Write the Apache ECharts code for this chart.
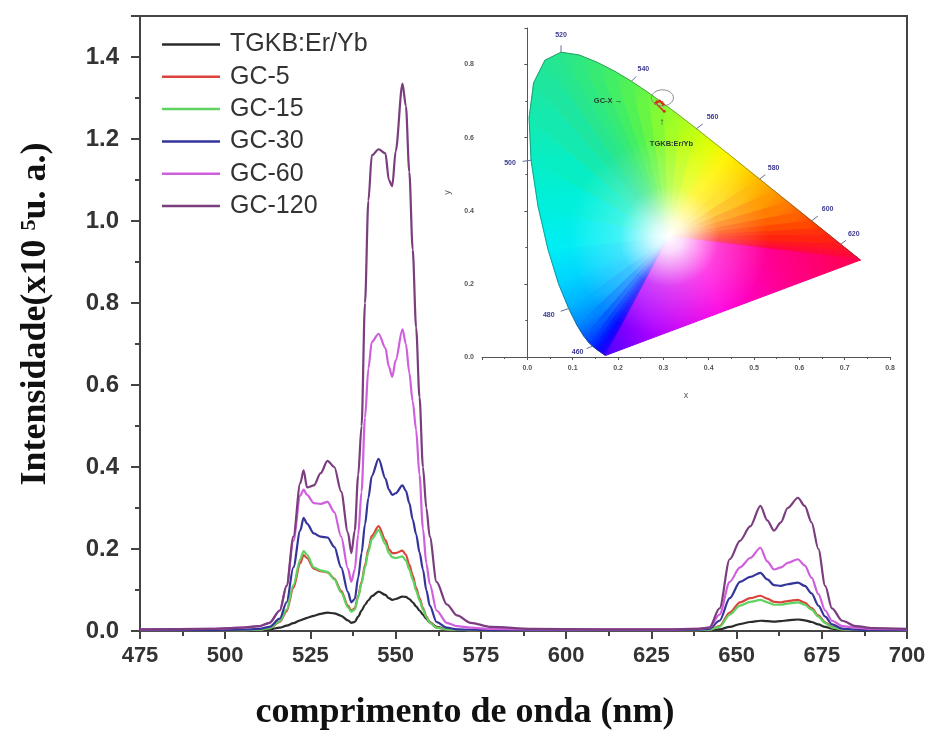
<!DOCTYPE html>
<html>
<head>
<meta charset="utf-8">
<title>Espectro de emissão</title>
<script src="https://cdn.jsdelivr.net/npm/echarts@6.0.0/dist/echarts.min.js"></script>
<style>
  html, body { margin: 0; padding: 0; background: #fff; }
  #chart { width: 930px; height: 738px; }
</style>
</head>
<body>
<div id="chart"></div>
<script>
// comprimento de onda (nm)
const wavelengths = [475,495,505,510,513, 516,518,520,522,523, 524,526,528,530,532, 534,536,537,538,539,
  540,541,542,543,545, 547,548,549,550,552, 553,554,555,556,557, 558,559,560,562,565,
  568,572,578,590,610, 630,638,642,645,648, 651,654,657,659,661, 663,665,668,670,672,
  674,676,678,681,685, 690,700]

const seriesNames = ['TGKB:Er/Yb', 'GC-5', 'GC-15', 'GC-30', 'GC-60', 'GC-120']

// intensidade (x10^5 u. a.)
const tgkb = [.001,.001,.002,.002,.004, .008,.013,.019,.026,.029, .032,.037,.042,.045,.043, .037,.026,.020,.022,.035,
  .050,.064,.075,.085,.096, .088,.080,.076,.078,.084, .083,.078,.070,.060,.050, .040,.030,.021,.010,.004,
  .002,.002,.001,.001,.001, .001,.001,.002,.004,.010, .017,.022,.025,.024,.023, .024,.026,.028,.026,.022,
  .016,.010,.006,.003,.002, .001,.001]
const gc5 = [.002,.002,.002,.003,.007, .022,.048,.105,.165,.185, .178,.152,.146,.143,.128, .098,.062,.050,.055,.085,
  .120,.160,.200,.232,.256, .222,.200,.190,.190,.196, .186,.162,.136,.105,.080, .056,.036,.022,.008,.004,
  .003,.002,.002,.002,.002, .002,.002,.003,.012,.045, .070,.080,.086,.079,.071, .070,.073,.076,.069,.056,
  .038,.021,.010,.004,.003, .002,.002]
const gc15 = [.002,.002,.002,.003,.007, .024,.052,.112,.175,.195, .186,.155,.148,.144,.126, .094,.058,.047,.052,.082,
  .116,.155,.193,.224,.246, .212,.190,.180,.178,.182, .172,.150,.126,.098,.075, .052,.034,.020,.008,.004,
  .003,.002,.002,.002,.002, .002,.002,.003,.010,.040, .062,.071,.076,.070,.064, .064,.067,.070,.064,.052,
  .035,.019,.009,.004,.003, .002,.002]
const gc30 = [.002,.002,.003,.005,.010, .030,.070,.155,.245,.276, .262,.238,.230,.228,.205, .155,.095,.070,.078,.130,
  .190,.260,.325,.378,.420, .372,.345,.332,.336,.355, .342,.312,.272,.236,.192, .150,.100,.062,.022,.008,
  .004,.003,.002,.002,.002, .002,.003,.005,.025,.080, .120,.132,.142,.126,.112, .110,.114,.118,.110,.092,
  .062,.035,.016,.006,.003, .002,.002]
const gc60 = [.004,.005,.008,.012,.020, .050,.110,.220,.330,.345, .332,.312,.310,.315,.290, .230,.152,.120,.150,.235,
  .340,.520,.640,.705,.725, .690,.645,.620,.660,.736, .700,.630,.560,.490,.380, .250,.165,.115,.050,.020,
  .012,.008,.005,.004,.004, .004,.005,.008,.040,.120, .155,.178,.203,.170,.150, .155,.166,.175,.160,.130,
  .090,.050,.025,.012,.008, .005,.004]
const gc120 = [.004,.005,.008,.012,.020, .050,.110,.230,.360,.392, .350,.355,.385,.415,.400, .340,.240,.190,.245,.380,
  .500,.800,1.050,1.160,1.175, 1.165,1.100,1.085,1.170,1.335, 1.280,1.120,.930,.740,.570, .400,.300,.230,.120,.065,
  .038,.020,.010,.005,.004, .004,.005,.008,.055,.175, .220,.255,.305,.270,.245, .265,.300,.325,.305,.265,
  .200,.110,.055,.025,.012, .007,.005]

const xTicks = [475, 500, 525, 550, 575, 600, 625, 650, 675, 700]
const yTicks = [0.0, 0.2, 0.4, 0.6, 0.8, 1.0, 1.2, 1.4]

// diagrama CIE 1931: lugar espectral
const cieWl = [380,420,430,440,450,455,460,465,470,475,480,485,490,495,500,505,510,515,520,525,530,535,
  540,545,550,555,560,565,570,575,580,585,590,595,600,605,610,620,630,640,650,660,680,700]
const cieX = [0.1741,0.1714,0.1689,0.1644,0.1566,0.1510,0.1440,0.1355,0.1241,0.1096,0.0913,0.0687,0.0454,0.0235,
  0.0082,0.0039,0.0139,0.0389,0.0743,0.1142,0.1547,0.1929,0.2296,0.2658,0.3016,0.3373,0.3731,0.4087,0.4441,
  0.4788,0.5125,0.5448,0.5752,0.6029,0.6270,0.6482,0.6658,0.6915,0.7079,0.7190,0.7260,0.7300,0.7334,0.7347]
const cieY = [0.0050,0.0051,0.0069,0.0109,0.0177,0.0227,0.0297,0.0399,0.0578,0.0868,0.1327,0.2007,0.2950,0.4127,
  0.5384,0.6548,0.7502,0.8120,0.8338,0.8262,0.8059,0.7816,0.7543,0.7243,0.6923,0.6589,0.6245,0.5896,0.5547,
  0.5202,0.4866,0.4544,0.4242,0.3965,0.3725,0.3514,0.3340,0.3083,0.2920,0.2809,0.2740,0.2700,0.2666,0.2653]
const whitePoint = [0.3127, 0.3290]
const labelWl = [460, 480, 500, 520, 540, 560, 580, 600, 620]

// coordenadas de cor das amostras
const sampleX = [0.302, 0.283, 0.286, 0.292, 0.297, 0.300]
const sampleY = [0.672, 0.694, 0.698, 0.700, 0.696, 0.690]

const noteText = ['GC-X →', '↑', 'TGKB:Er/Yb']
const noteX = [0.178, 0.297, 0.318]
const noteY = [0.700, 0.641, 0.584]
const circleCenter = [0.298, 0.709]

// estilos
const lineColors = ['#2b2b2b', '#d9443c', '#5fd35f', '#34349a', '#cf5fdc', '#7a3d7e']
const cieColors = ['#5000ff','#3a00ff','#2c00ff','#1c00ff','#0c08ff','#0018ff','#0028ff','#0040ff','#0060ff','#0088ff',
  '#00b0ff','#00d4ff','#00eef4','#00f0dc','#08eec4','#14eab0','#1ce6a0','#22e696','#28e68c','#2ee882','#36ea74',
  '#42ee64','#52f254','#68f644','#84fa34','#a2fe24','#c0ff14','#e0ff06','#fff400','#ffda00','#ffba00','#ff9a00',
  '#ff7c00','#ff6000','#ff4800','#ff3408','#ff2410','#ff1620','#ff0e30','#ff0838','#ff063e','#ff0444','#ff0248','#ff004c']
const purpleStops = [
  { offset: 0, color: '#ff004c' },
  { offset: 0.3, color: '#ff0090' },
  { offset: 0.55, color: '#ff00e0' },
  { offset: 0.8, color: '#b000ff' },
  { offset: 1, color: '#5000ff' }
]
const labelOffsets = {
  460: [-15, 6], 480: [-20, 7], 500: [-21, 3], 520: [0, -17], 540: [12, -12],
  560: [16, -12], 580: [14, -11], 600: [16, -12], 620: [13, -10]
}

const sansFont = "'Liberation Sans', Arial, sans-serif"
const serifFont = "'Liberation Serif', 'Times New Roman', serif"

const chart = echarts.init(document.getElementById('chart'))

const mainSeries = [tgkb, gc5, gc15, gc30, gc60, gc120].map((vals, k) => ({
  name: seriesNames[k],
  type: 'line',
  xAxisIndex: 0,
  yAxisIndex: 0,
  data: wavelengths.map((w, i) => [w, vals[i]]),
  symbol: 'none',
  showSymbol: false,
  smooth: 0.3,
  smoothMonotone: 'x',
  lineStyle: { width: 2.2, color: lineColors[k] },
  itemStyle: { color: lineColors[k] },
  z: 3
}))

// leque de triângulos a partir do ponto branco
const fanSeries = {
  type: 'custom',
  xAxisIndex: 1,
  yAxisIndex: 1,
  silent: true,
  z: 2,
  data: cieX.map((x, i) => [x, cieY[i]]),
  renderItem: (params, api) => {
    const n = cieX.length
    const i = params.dataIndex
    const j = (i + 1) % n
    const p0 = api.coord([cieX[i], cieY[i]])
    const p1 = api.coord([cieX[j], cieY[j]])
    const w = api.coord(whitePoint)
    const stops = j === 0 ? purpleStops : [
      { offset: 0, color: cieColors[i] },
      { offset: 1, color: cieColors[j] }
    ]
    const grad = { type: 'linear', x: p0[0], y: p0[1], x2: p1[0], y2: p1[1], global: true, colorStops: stops }
    return {
      type: 'polygon',
      shape: { points: [w, p0, p1] },
      style: { fill: grad, stroke: grad, lineWidth: 1 }
    }
  }
}

// brilho branco no centro
const whiteSeries = {
  type: 'custom',
  xAxisIndex: 1,
  yAxisIndex: 1,
  silent: true,
  z: 3,
  data: [whitePoint],
  renderItem: (params, api) => {
    const pts = cieX.map((x, i) => api.coord([x, cieY[i]]))
    const w = api.coord(whitePoint)
    return {
      type: 'polygon',
      shape: { points: pts },
      style: {
        fill: {
          type: 'radial', x: w[0], y: w[1], r: 100, global: true,
          colorStops: [
            { offset: 0, color: 'rgba(255,255,255,1)' },
            { offset: 0.15, color: 'rgba(255,255,255,0.85)' },
            { offset: 0.5, color: 'rgba(255,255,255,0.25)' },
            { offset: 1, color: 'rgba(255,255,255,0)' }
          ]
        }
      }
    }
  }
}

const outlineSeries = {
  type: 'line',
  xAxisIndex: 1,
  yAxisIndex: 1,
  silent: true,
  symbol: 'none',
  data: cieX.map((x, i) => [x, cieY[i]]),
  lineStyle: { width: 1, color: 'rgba(30,70,50,0.45)' },
  z: 4
}

const labelSeries = {
  type: 'custom',
  xAxisIndex: 1,
  yAxisIndex: 1,
  silent: true,
  z: 5,
  data: labelWl.map(w => {
    const k = cieWl.indexOf(w)
    return [cieX[k], cieY[k], w]
  }),
  renderItem: (params, api) => {
    const p = api.coord([api.value(0), api.value(1)])
    const wl = api.value(2)
    const off = labelOffsets[wl]
    return {
      type: 'group',
      children: [
        {
          type: 'line',
          shape: { x1: p[0], y1: p[1], x2: p[0] + off[0] * 0.4, y2: p[1] + off[1] * 0.4 },
          style: { stroke: '#6a6a9a', lineWidth: 1 }
        },
        {
          type: 'text',
          x: p[0] + off[0],
          y: p[1] + off[1],
          style: {
            text: String(wl), fill: '#3b3b8f', fontSize: 7, fontWeight: 'bold',
            fontFamily: sansFont, align: 'center', verticalAlign: 'middle'
          }
        }
      ]
    }
  }
}

const sampleSeries = {
  type: 'line',
  xAxisIndex: 1,
  yAxisIndex: 1,
  silent: true,
  data: sampleX.map((x, i) => [x, sampleY[i]]),
  symbol: 'circle',
  symbolSize: 3,
  showSymbol: true,
  lineStyle: { width: 1.5, color: '#d8321e' },
  itemStyle: { color: '#d8321e' },
  z: 6
}

const noteSeries = {
  type: 'custom',
  xAxisIndex: 1,
  yAxisIndex: 1,
  silent: true,
  z: 7,
  data: noteX.map((x, i) => [x, noteY[i], i]),
  renderItem: (params, api) => {
    const p = api.coord([api.value(0), api.value(1)])
    const k = api.value(2)
    return {
      type: 'text',
      x: p[0],
      y: p[1],
      style: {
        text: noteText[k], fill: '#2c3a2c', fontSize: k === 1 ? 10 : 7.5, fontWeight: 'bold',
        fontFamily: sansFont, align: 'center', verticalAlign: 'middle'
      }
    }
  }
}

const circleSeries = {
  type: 'custom',
  xAxisIndex: 1,
  yAxisIndex: 1,
  silent: true,
  z: 7,
  data: [circleCenter],
  renderItem: (params, api) => {
    const c = api.coord(circleCenter)
    return {
      type: 'ellipse',
      shape: { cx: c[0], cy: c[1], rx: 11, ry: 8 },
      style: { fill: 'none', stroke: '#8a8a8a', lineWidth: 1 }
    }
  }
}

const insetAxisCommon = {
  type: 'value',
  axisLine: { lineStyle: { color: '#555', width: 1 } },
  axisTick: { length: 3, lineStyle: { color: '#555' } },
  minorTick: { show: true, splitNumber: 2, length: 2, lineStyle: { color: '#555' } },
  splitLine: { show: false },
  nameTextStyle: { fontSize: 9, color: '#555', fontFamily: sansFont }
}

const option = {
  animation: false,
  backgroundColor: '#fff',
  grid: [
    { left: 140, right: 23, top: 16, bottom: 107, show: true, borderColor: '#444', borderWidth: 2 },
    { left: 482, top: 28, width: 408, height: 329 }
  ],
  legend: {
    data: seriesNames,
    orient: 'vertical',
    left: 157,
    top: 27,
    icon: 'rect',
    itemWidth: 58,
    itemHeight: 2.5,
    itemGap: 7.3,
    textStyle: { fontFamily: sansFont, fontSize: 25, color: '#333', padding: [0, 0, 0, 5] }
  },
  xAxis: [
    {
      type: 'value',
      gridIndex: 0,
      min: xTicks[0],
      max: xTicks[xTicks.length - 1],
      interval: 25,
      axisLine: { onZero: false, lineStyle: { color: '#444', width: 2 } },
      axisTick: { length: 8, lineStyle: { color: '#444', width: 2 } },
      minorTick: { show: true, splitNumber: 2, length: 5, lineStyle: { color: '#444', width: 2 } },
      splitLine: { show: false },
      axisLabel: { fontFamily: sansFont, fontSize: 22, fontWeight: 'bold', color: '#333', margin: 14 }
    },
    Object.assign({}, insetAxisCommon, {
      gridIndex: 1,
      min: -0.1,
      max: 0.8,
      interval: 0.1,
      name: 'x',
      nameLocation: 'middle',
      nameGap: 34,
      axisLabel: {
        fontSize: 7, color: '#555', fontWeight: 'bold', fontFamily: sansFont, margin: 8,
        showMinLabel: false, formatter: v => v.toFixed(1)
      }
    })
  ],
  yAxis: [
    {
      type: 'value',
      gridIndex: 0,
      min: yTicks[0],
      max: 1.5,
      interval: 0.2,
      axisLine: { lineStyle: { color: '#444', width: 2 } },
      axisTick: { length: 9, lineStyle: { color: '#444', width: 2 } },
      minorTick: { show: true, splitNumber: 2, length: 5, lineStyle: { color: '#444', width: 2 } },
      splitLine: { show: false },
      axisLabel: {
        fontFamily: sansFont, fontSize: 24, fontWeight: 'bold', color: '#333', margin: 21,
        showMaxLabel: false, formatter: v => v.toFixed(1)
      }
    },
    Object.assign({}, insetAxisCommon, {
      gridIndex: 1,
      min: 0,
      max: 0.9,
      interval: 0.2,
      name: 'y',
      nameLocation: 'middle',
      nameGap: 30,
      nameRotate: 90,
      axisLabel: {
        fontSize: 7, color: '#555', fontWeight: 'bold', fontFamily: sansFont, margin: 8,
        showMaxLabel: false, formatter: v => v.toFixed(1)
      }
    })
  ],
  graphic: [
    {
      type: 'text',
      x: 36,
      y: 314,
      rotation: Math.PI / 2,
      style: {
        text: 'Intensidade(x10 {sup|5}u. a.)',
        fontFamily: serifFont,
        fontSize: 36,
        fontWeight: 'bold',
        fill: '#111',
        align: 'center',
        verticalAlign: 'middle',
        rich: {
          sup: { fontFamily: serifFont, fontSize: 22, fontWeight: 'bold', fill: '#111', verticalAlign: 'top' }
        }
      }
    },
    {
      type: 'text',
      x: 465,
      y: 713,
      style: {
        text: 'comprimento de onda (nm)',
        fontFamily: serifFont,
        fontSize: 36,
        fontWeight: 'bold',
        fill: '#111',
        align: 'center',
        verticalAlign: 'middle'
      }
    }
  ],
  series: mainSeries.concat([fanSeries, whiteSeries, outlineSeries, labelSeries, sampleSeries, circleSeries, noteSeries])
}

chart.setOption(option)
</script>
</body>
</html>
